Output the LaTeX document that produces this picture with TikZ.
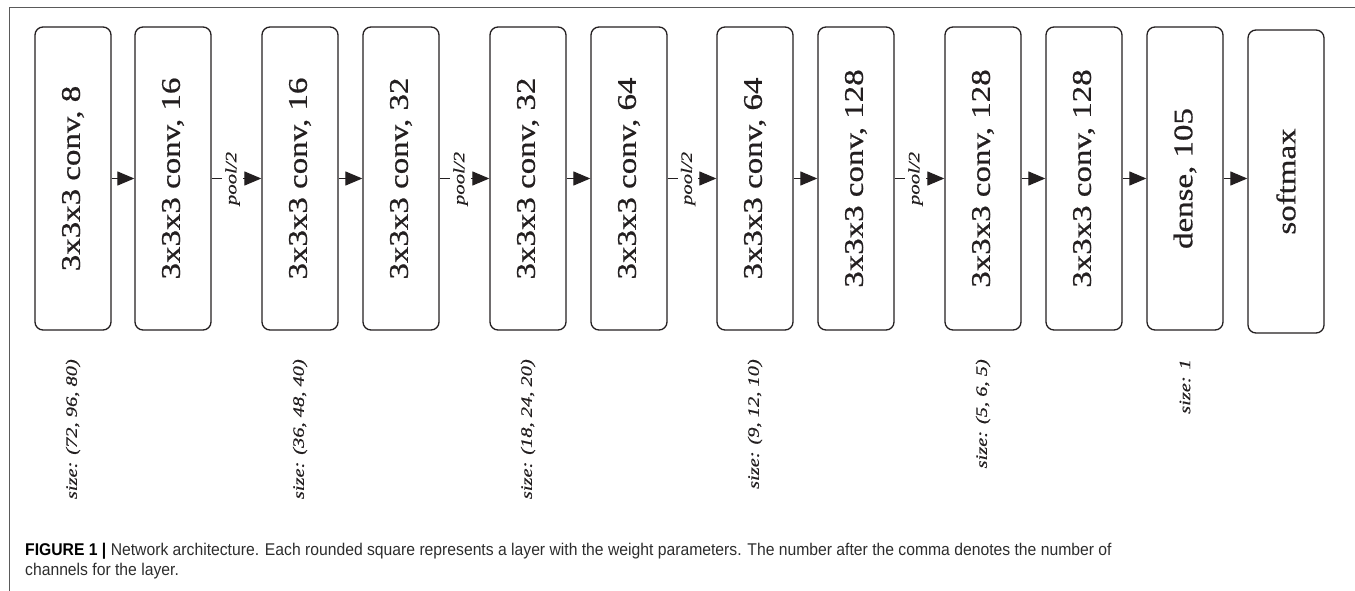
\documentclass[tikz,border=0pt]{standalone}
\usepackage{fontspec}
\setmainfont{Liberation Serif}
\newfontfamily\serifx{Liberation Serif}[BoldFont=Liberation Serif, BoldItalicFont=Liberation Serif Italic, BoldFeatures={FakeBold=0.6}, BoldItalicFeatures={FakeBold=0.4}]
\newfontfamily\capfont{Liberation Sans}
\usetikzlibrary{arrows.meta}
\definecolor{inkc}{RGB}{35,31,32}
\definecolor{framec}{RGB}{90,90,90}
\definecolor{capc}{RGB}{45,45,45}
\newcommand{\boxtxt}[1]{\rotatebox{90}{\scalebox{1.22}[1]{\serifx\bfseries\fontsize{27}{27}\selectfont #1}}}
\newcommand{\sztxt}[1]{\scalebox{1.28}[1]{\serifx\bfseries\itshape\fontsize{16}{16}\selectfont #1}}
\newcommand{\pooltxt}{\scalebox{1.3}[1]{\serifx\bfseries\itshape\fontsize{16}{16}\selectfont pool/2}}
\tikzset{
  layer/.style={draw=inkc, line width=1.3pt, rounded corners=8pt, minimum width=76pt, minimum height=303pt, inner sep=0pt, text=inkc},
  sizelab/.style={rotate=90, anchor=east, inner sep=0pt, text=inkc},
  poollab/.style={rotate=90, fill=white, inner xsep=1pt, inner ysep=3pt, text=inkc},
  arr/.style={draw=inkc, line width=1.2pt, -{Triangle[length=17pt,width=14pt]}},
  capline/.style={anchor=base west, inner sep=0pt, text=capc}
}
\newcommand{\captxt}[1]{\scalebox{0.924}[1]{\capfont\fontsize{17}{17}\selectfont #1}}
\begin{document}
\begin{tikzpicture}[x=1pt,y=1pt]
\useasboundingbox (0,0) rectangle (1355,-591);
\draw[framec, line width=1pt] (9,-591) -- (9,-8) -- (1355,-8);
% layers
\node[layer] (b1) at (73,-178.5) {\boxtxt{3x3x3 conv, 8}};
\node[layer] (b2) at (173,-178.5) {\boxtxt{3x3x3 conv, 16}};
\node[layer] (b3) at (300,-178.5) {\boxtxt{3x3x3 conv, 16}};
\node[layer] (b4) at (401,-178.5) {\boxtxt{3x3x3 conv, 32}};
\node[layer] (b5) at (528,-178.5) {\boxtxt{3x3x3 conv, 32}};
\node[layer] (b6) at (629,-178.5) {\boxtxt{3x3x3 conv, 64}};
\node[layer] (b7) at (755,-178.5) {\boxtxt{3x3x3 conv, 64}};
\node[layer] (b8) at (856,-178.5) {\boxtxt{3x3x3 conv, 128}};
\node[layer] (b9) at (983,-178.5) {\boxtxt{3x3x3 conv, 128}};
\node[layer] (b10) at (1084,-178.5) {\boxtxt{3x3x3 conv, 128}};
\node[layer] (b11) at (1185,-178.5) {\boxtxt{dense, 105}};
\node[layer] (b12) at (1286,-181.5) {\boxtxt{softmax}};
% connectors
\draw[arr] (b1.east) -- (b2.west);
\draw[arr] (b2.east) -- (b3.west) node[poollab, pos=0.42] (p1) {\pooltxt};
\draw[arr] (b3.east) -- (b4.west);
\draw[arr] (b4.east) -- (b5.west) node[poollab, pos=0.42] (p2) {\pooltxt};
\draw[arr] (b5.east) -- (b6.west);
\draw[arr] (b6.east) -- (b7.west) node[poollab, pos=0.42] (p3) {\pooltxt};
\draw[arr] (b7.east) -- (b8.west);
\draw[arr] (b8.east) -- (b9.west) node[poollab, pos=0.42] (p4) {\pooltxt};
\draw[arr] (b9.east) -- (b10.west);
\draw[arr] (b10.east) -- (b11.west);
\draw[arr] (b11.east) -- (b11.east -| b12.west);
% size labels
\node[sizelab] (s1) at (73,-359) {\sztxt{size: (72, 96, 80)}};
\node[sizelab] (s3) at (300,-359) {\sztxt{size: (36, 48, 40)}};
\node[sizelab] (s5) at (528,-359) {\sztxt{size: (18, 24, 20)}};
\node[sizelab] (s7) at (755,-359) {\sztxt{size: (9, 12, 10)}};
\node[sizelab] (s9) at (983,-359) {\sztxt{size: (5, 6, 5)}};
\node[sizelab] (s11) at (1185,-359) {\sztxt{size: 1}};
% caption
\node[capline] (c1) at (25,-555) {\captxt{{\color{black}\bfseries FIGURE 1 |} Network architecture. Each rounded square represents a layer with the weight parameters. The number after the comma denotes the number of}};
\node[capline] (c2) at (25,-575) {\captxt{channels for the layer.}};
\end{tikzpicture}
\end{document}
